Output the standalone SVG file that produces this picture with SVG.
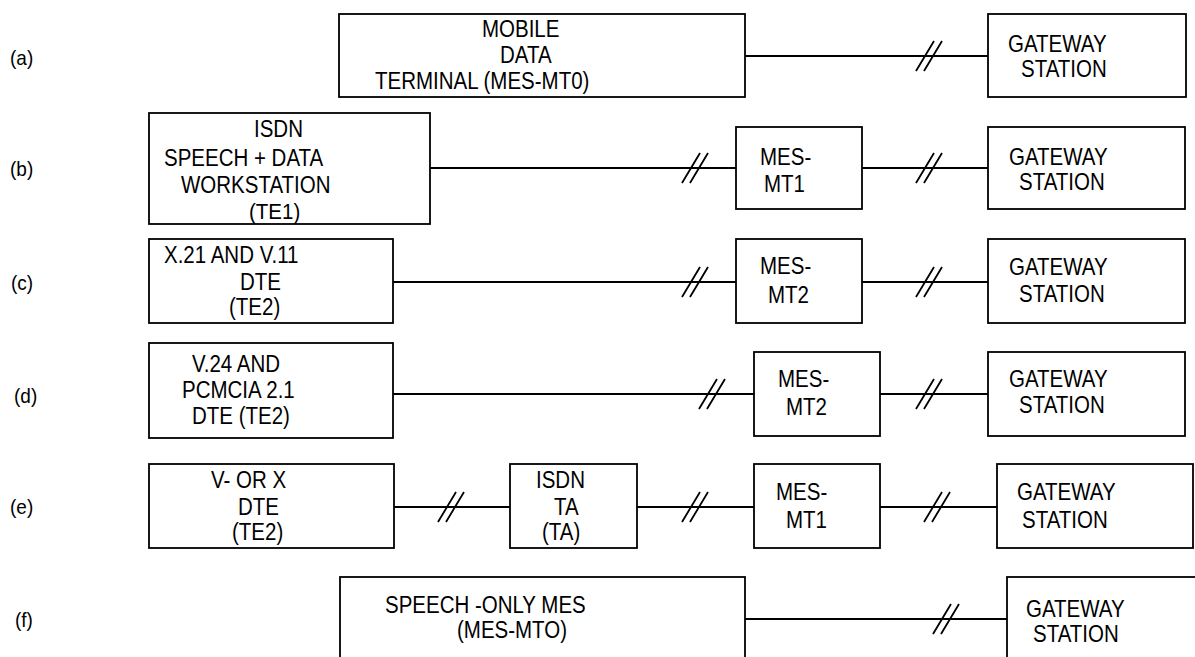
<svg xmlns="http://www.w3.org/2000/svg" width="1195" height="657" viewBox="0 0 1195 657">
<style>
  .box { fill: #fff; stroke: #000; stroke-width: 1.8; }
  .ln { fill: none; stroke: #000; stroke-width: 1.8; }
  .t { font-family: "Liberation Sans", Arial, sans-serif; font-size: 20.5px; fill: #000; }
  .lbl { font-family: "Liberation Sans", Arial, sans-serif; font-size: 19px; fill: #000; }
</style>
<defs>
  <path id="brk" d="M0,15 L18,-15 M8,15 L26,-15" fill="none" stroke="#000" stroke-width="1.8"/>
</defs>
<rect width="1195" height="657" fill="#fff"/>

<g id="labels">
  <text class="lbl" transform="translate(10 65) scale(1 1.1)">(a)</text>
  <text class="lbl" transform="translate(10 176) scale(1 1.1)">(b)</text>
  <text class="lbl" transform="translate(11 290) scale(1 1.1)">(c)</text>
  <text class="lbl" transform="translate(14 403) scale(1 1.1)">(d)</text>
  <text class="lbl" transform="translate(10 514) scale(1 1.1)">(e)</text>
  <text class="lbl" transform="translate(15 627) scale(1 1.1)">(f)</text>
</g>

<g id="connectors">
  <line class="ln" x1="745" y1="56" x2="988" y2="56"/>
  <use href="#brk" x="916" y="56"/>

  <line class="ln" x1="430" y1="168" x2="736" y2="168"/>
  <use href="#brk" x="682" y="168"/>
  <line class="ln" x1="862" y1="168" x2="988" y2="168"/>
  <use href="#brk" x="916" y="168"/>

  <line class="ln" x1="393" y1="282" x2="736" y2="282"/>
  <use href="#brk" x="682" y="282"/>
  <line class="ln" x1="862" y1="282" x2="988" y2="282"/>
  <use href="#brk" x="916" y="282"/>

  <line class="ln" x1="393" y1="394" x2="754" y2="394"/>
  <use href="#brk" x="699" y="394"/>
  <line class="ln" x1="880" y1="394" x2="988" y2="394"/>
  <use href="#brk" x="916" y="394"/>

  <line class="ln" x1="394" y1="507" x2="510" y2="507"/>
  <use href="#brk" x="438" y="507"/>
  <line class="ln" x1="637" y1="507" x2="754" y2="507"/>
  <use href="#brk" x="682" y="507"/>
  <line class="ln" x1="880" y1="507" x2="997" y2="507"/>
  <use href="#brk" x="924" y="507"/>

  <line class="ln" x1="745" y1="619" x2="1007" y2="619"/>
  <use href="#brk" x="933" y="619"/>
</g>

<g id="a-mdt">
  <rect class="box" x="339" y="14" width="406" height="83"/>
  <text class="t" transform="translate(482 37) scale(1 1.15)">MOBILE</text>
  <text class="t" transform="translate(500 63) scale(1 1.15)">DATA</text>
  <text class="t" transform="translate(375 89) scale(1 1.15)">TERMINAL (MES-MT0)</text>
</g>
<g id="a-gw">
  <rect class="box" x="988" y="14" width="198" height="83"/>
  <text class="t" transform="translate(1008 52) scale(1 1.15)">GATEWAY</text>
  <text class="t" transform="translate(1021 77) scale(1 1.15)">STATION</text>
</g>

<g id="b-te1">
  <rect class="box" x="149" y="113" width="281" height="111"/>
  <text class="t" transform="translate(254 137) scale(1 1.15)">ISDN</text>
  <text class="t" transform="translate(164 165.5) scale(1 1.15)">SPEECH + DATA</text>
  <text class="t" transform="translate(181 193) scale(1 1.15)">WORKSTATION</text>
  <text class="t" transform="translate(249 219) scale(1 1.05)">(TE1)</text>
</g>
<g id="b-mt1">
  <rect class="box" x="736" y="127" width="126" height="82"/>
  <text class="t" transform="translate(760 165) scale(1 1.15)">MES-</text>
  <text class="t" transform="translate(764 192) scale(1 1.15)">MT1</text>
</g>
<g id="b-gw">
  <rect class="box" x="988" y="127" width="197" height="82"/>
  <text class="t" transform="translate(1009 165) scale(1 1.15)">GATEWAY</text>
  <text class="t" transform="translate(1019 190) scale(1 1.15)">STATION</text>
</g>

<g id="c-te2">
  <rect class="box" x="149" y="239" width="244" height="84"/>
  <text class="t" transform="translate(164 263) scale(1 1.15)">X.21 AND V.11</text>
  <text class="t" transform="translate(240 290) scale(1 1.15)">DTE</text>
  <text class="t" transform="translate(229 315) scale(1 1.15)">(TE2)</text>
</g>
<g id="c-mt2">
  <rect class="box" x="736" y="239" width="126" height="84"/>
  <text class="t" transform="translate(760 274) scale(1 1.15)">MES-</text>
  <text class="t" transform="translate(768 303) scale(1 1.15)">MT2</text>
</g>
<g id="c-gw">
  <rect class="box" x="988" y="239" width="197" height="84"/>
  <text class="t" transform="translate(1009 275) scale(1 1.15)">GATEWAY</text>
  <text class="t" transform="translate(1019 302) scale(1 1.15)">STATION</text>
</g>

<g id="d-te2">
  <rect class="box" x="149" y="343" width="244" height="95"/>
  <text class="t" transform="translate(192 372) scale(1 1.15)">V.24 AND</text>
  <text class="t" transform="translate(182 398) scale(1 1.15)">PCMCIA 2.1</text>
  <text class="t" transform="translate(192 424) scale(1 1.15)">DTE (TE2)</text>
</g>
<g id="d-mt2">
  <rect class="box" x="754" y="352" width="126" height="84"/>
  <text class="t" transform="translate(778 387) scale(1 1.15)">MES-</text>
  <text class="t" transform="translate(786 415) scale(1 1.15)">MT2</text>
</g>
<g id="d-gw">
  <rect class="box" x="988" y="352" width="197" height="84"/>
  <text class="t" transform="translate(1009 387) scale(1 1.15)">GATEWAY</text>
  <text class="t" transform="translate(1019 413) scale(1 1.15)">STATION</text>
</g>

<g id="e-te2">
  <rect class="box" x="149" y="464" width="245" height="84"/>
  <text class="t" transform="translate(211 488) scale(1 1.15)">V- OR X</text>
  <text class="t" transform="translate(238 515) scale(1 1.15)">DTE</text>
  <text class="t" transform="translate(232 540) scale(1 1.15)">(TE2)</text>
</g>
<g id="e-ta">
  <rect class="box" x="510" y="464" width="127" height="84"/>
  <text class="t" transform="translate(536 488) scale(1 1.15)">ISDN</text>
  <text class="t" transform="translate(554 515) scale(1 1.15)">TA</text>
  <text class="t" transform="translate(542 540) scale(1 1.15)">(TA)</text>
</g>
<g id="e-mt1">
  <rect class="box" x="754" y="464" width="126" height="84"/>
  <text class="t" transform="translate(776 500) scale(1 1.15)">MES-</text>
  <text class="t" transform="translate(786 528) scale(1 1.15)">MT1</text>
</g>
<g id="e-gw">
  <rect class="box" x="997" y="464" width="196" height="84"/>
  <text class="t" transform="translate(1017 500) scale(1 1.15)">GATEWAY</text>
  <text class="t" transform="translate(1022 528) scale(1 1.15)">STATION</text>
</g>

<g id="f-mto">
  <rect class="box" x="340" y="577" width="405" height="100"/>
  <text class="t" transform="translate(385 613) scale(1 1.15)">SPEECH -ONLY MES</text>
  <text class="t" transform="translate(457 638) scale(1 1.15)">(MES-MTO)</text>
</g>
<g id="f-gw">
  <rect class="box" x="1007" y="577" width="200" height="100"/>
  <text class="t" transform="translate(1026 617) scale(1 1.15)">GATEWAY</text>
  <text class="t" transform="translate(1033 642) scale(1 1.15)">STATION</text>
</g>
</svg>
